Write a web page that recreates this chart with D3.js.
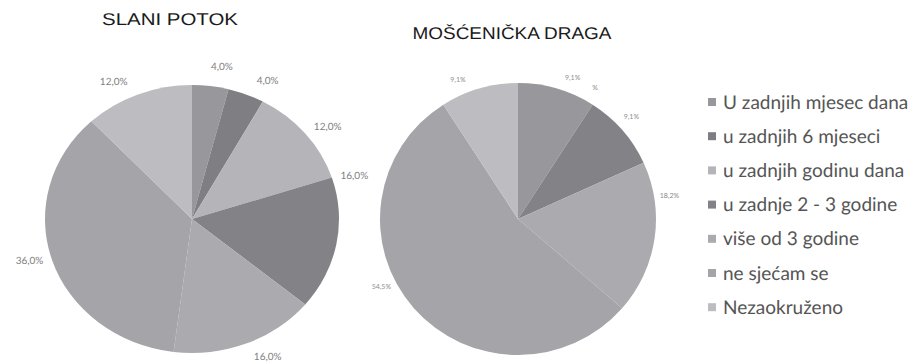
<!DOCTYPE html>
<html>
<head>
<meta charset="utf-8">
<script src="https://cdn.jsdelivr.net/npm/d3@7"></script>
<style>
  html, body { margin: 0; padding: 0; background: #ffffff; }
  svg { display: block; }
  text { text-rendering: geometricPrecision; }
</style>
</head>
<body>
<svg id="chart" width="919" height="362"></svg>
<script>
// Categories shared by both pies (legend order = slice order)
const categories = [
  "U zadnjih mjesec dana",
  "u zadnjih 6 mjeseci",
  "u zadnjih godinu dana",
  "u zadnje 2 - 3 godine",
  "više od 3 godine",
  "ne sjećam se",
  "Nezaokruženo"
];

// Percentages per location
const slaniPotok = [4.0, 4.0, 12.0, 16.0, 16.0, 36.0, 12.0];
const moscenickaDraga = [9.1, 0, 0, 9.1, 18.2, 54.5, 9.1];

// Data labels as printed next to the slices
const slaniLabels = ["4,0%", "4,0%", "12,0%", "16,0%", "16,0%", "36,0%", "12,0%"];
const dragaLabels = ["9,1%", "%", "", "9,1%", "18,2%", "54,5%", "9,1%"];

const titles = ["SLANI POTOK", "MOŠĆENIČKA DRAGA"];

// Grey palette for the slices / legend swatches
const sliceColors = ["#98989c", "#7f7f83", "#b5b5b9", "#838387", "#ababaf", "#a5a5a9", "#bdbdc1"];

const svg = d3.select("#chart");
const color = d3.scaleOrdinal().domain(categories).range(sliceColors);

const pie = d3.pie().sort(null).value(d => d.value);

// Layout of the two pies (ellipse radii, label ring, label angle nudges in degrees)
const pies = [
  { values: slaniPotok, labels: slaniLabels, title: titles[0],
    cx: 192, cy: 219, rx: 147, ry: 134,
    titleX: 170, titleY: 25, titleW: 136, titleSize: 17,
    labelRing: 1.15, labelSize: 10, labelColor: "#808080",
    nudge: [3, 5, 3, -27, -5, 2, -6] },
  { values: moscenickaDraga, labels: dragaLabels, title: titles[1],
    cx: 518, cy: 219, rx: 138, ry: 136,
    titleX: 512, titleY: 39, titleW: 199, titleSize: 17,
    labelRing: 1.11, labelSize: 7, labelColor: "#8c8c8c",
    nudge: [4.5, -2.6, 0, -1.4, -17, 14, -6.7] }
];

pies.forEach(p => {
  const data = categories.map((c, i) => ({ cat: c, value: p.values[i], label: p.labels[i] }));
  const arcs = pie(data);

  // Slices are drawn on the vertical radius and stretched horizontally into an ellipse
  const arc = d3.arc().innerRadius(0).outerRadius(p.ry);
  const g = svg.append("g")
    .attr("transform", `translate(${p.cx},${p.cy}) scale(${p.rx / p.ry},1)`);
  g.selectAll("path")
    .data(arcs.filter(a => a.data.value > 0))
    .join("path")
    .attr("d", arc)
    .attr("fill", d => color(d.data.cat));

  // Data labels around the pie
  const angle = d => (d.a.startAngle + d.a.endAngle) / 2 + p.nudge[d.i] * Math.PI / 180;
  svg.append("g").selectAll("text")
    .data(arcs.map((a, i) => ({ a, i })).filter(d => d.a.data.label))
    .join("text")
    .attr("x", d => p.cx + p.rx * p.labelRing * Math.sin(angle(d)))
    .attr("y", d => p.cy - p.ry * p.labelRing * Math.cos(angle(d)))
    .attr("text-anchor", "middle")
    .attr("dominant-baseline", "central")
    .attr("font-family", "Lato, 'DejaVu Sans', sans-serif")
    .attr("font-size", p.labelSize)
    .attr("fill", p.labelColor)
    .text(d => d.a.data.label);

  // Title
  svg.append("text")
    .attr("x", p.titleX)
    .attr("y", p.titleY)
    .attr("text-anchor", "middle")
    .attr("font-family", "'Liberation Sans', Arial, sans-serif")
    .attr("font-size", p.titleSize)
    .attr("fill", "#1a1a1a")
    .attr("textLength", p.titleW)
    .attr("lengthAdjust", "spacingAndGlyphs")
    .text(p.title);
});

// Legend
const legend = svg.append("g").attr("transform", "translate(708,102)");
const rowStep = 34.2;
const item = legend.selectAll("g")
  .data(categories)
  .join("g")
  .attr("transform", (d, i) => `translate(0,${i * rowStep})`);
item.append("rect")
  .attr("x", 0).attr("y", -4)
  .attr("width", 8).attr("height", 8)
  .attr("fill", d => color(d));
item.append("text")
  .attr("x", 15)
  .attr("y", 0)
  .attr("dominant-baseline", "central")
  .attr("font-family", "Lato, 'Open Sans', sans-serif")
  .attr("font-size", 19)
  .attr("fill", "#555555")
  .text(d => d);
</script>
</body>
</html>
